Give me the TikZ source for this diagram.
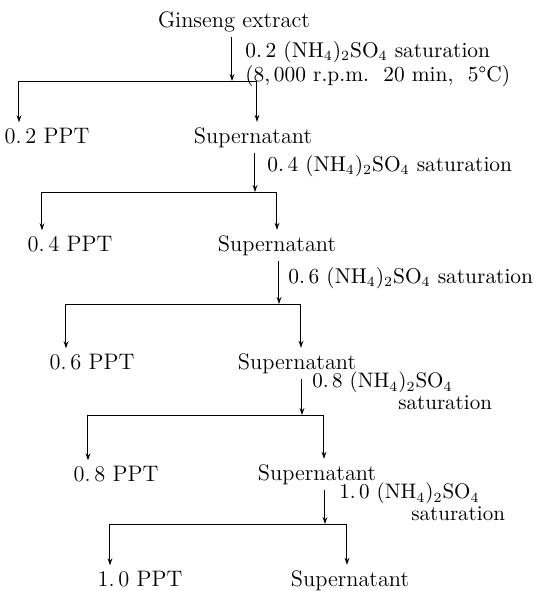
\documentclass[tikz,border=0pt]{standalone}
\usetikzlibrary{arrows.meta}
\def\unit{0.5pt}

\begin{document}
\begin{tikzpicture}[x=\unit, y=-\unit,
    every node/.style={font=\fontsize{11.2}{9.8}\selectfont, inner sep=2.5pt},
    txt/.style={anchor=base},
    lbl/.style={anchor=base west, align=left, inner sep=0pt, font=\fontsize{10.7}{9.6}\selectfont},
    lbltwo/.style={lbl, font=\fontsize{10.5}{9}\selectfont},
    arr/.style={-{Stealth[length=3.5pt,width=2.4pt]}, line width=0.5pt},
    bar/.style={line width=0.5pt}]
      \useasboundingbox (0,0) rectangle (541,591);
      \node[txt] (ext) at (234,27) {Ginseng extract};
      \node[lbl] (c0) at (245,81) {0.\,2 (NH$_4$)$_2$SO$_4$ saturation\\(8,\,000 r.p.m.\ \ 20 min,\ \ 5\textdegree C)};
      \node[txt] (ppt0) at (47,143) {0.\,2 PPT};
      \node[txt] (sup0) at (253,143) {Supernatant};
      \node[lbl] (c1) at (267,171) {0.\,4 (NH$_4$)$_2$SO$_4$ saturation};
      \node[txt] (ppt1) at (70,251) {0.\,4 PPT};
      \node[txt] (sup1) at (277,251) {Supernatant};
      \node[lbl] (c2) at (288,283) {0.\,6 (NH$_4$)$_2$SO$_4$ saturation};
      \node[txt] (ppt2) at (92,369) {0.\,6 PPT};
      \node[txt] (sup2) at (297,369) {Supernatant};
      \node[lbltwo] (c3) at (312,409) {0.\,8 (NH$_4$)$_2$SO$_4$\\\hspace*{43pt}saturation};
      \node[txt] (ppt3) at (116,481) {0.\,8 PPT};
      \node[txt] (sup3) at (317,480) {Supernatant};
      \node[lbltwo] (c4) at (339,520) {1.\,0 (NH$_4$)$_2$SO$_4$\\\hspace*{36pt}saturation};
      \node[txt] (ppt4) at (140,586) {1.\,0 PPT};
      \node[txt] (sup4) at (350,586) {Supernatant};
      \coordinate (m0) at (232,81);
      \coordinate (l0) at (19,81);
      \coordinate (r0) at (257,81);
      \coordinate (m1) at (255,192);
      \coordinate (l1) at (42,192);
      \coordinate (r1) at (277,192);
      \coordinate (m2) at (279,304);
      \coordinate (l2) at (66,304);
      \coordinate (r2) at (301,304);
      \coordinate (m3) at (302,415);
      \coordinate (l3) at (88,415);
      \coordinate (r3) at (324,415);
      \coordinate (m4) at (325,524);
      \coordinate (l4) at (110,524);
      \coordinate (r4) at (347,524);
      \draw[arr] (m0 |- ext.south) -- (m0);
      \draw[bar] (l0) -- (r0);
      \draw[arr] (l0) -- (l0 |- ppt0.north);
      \draw[arr] (r0) -- (r0 |- sup0.north);
      \draw[arr] (m1 |- sup0.south) -- (m1);
      \draw[bar] (l1) -- (r1);
      \draw[arr] (l1) -- (l1 |- ppt1.north);
      \draw[arr] (r1) -- (r1 |- sup1.north);
      \draw[arr] (m2 |- sup1.south) -- (m2);
      \draw[bar] (l2) -- (r2);
      \draw[arr] (l2) -- (l2 |- ppt2.north);
      \draw[arr] (r2) -- (r2 |- sup2.north);
      \draw[arr] (m3 |- sup2.south) -- (m3);
      \draw[bar] (l3) -- (r3);
      \draw[arr] (l3) -- (l3 |- ppt3.north);
      \draw[arr] (r3) -- (r3 |- sup3.north);
      \draw[arr] (m4 |- sup3.south) -- (m4);
      \draw[bar] (l4) -- (r4);
      \draw[arr] (l4) -- (l4 |- ppt4.north);
      \draw[arr] (r4) -- (r4 |- sup4.north);
\end{tikzpicture}
\end{document}
